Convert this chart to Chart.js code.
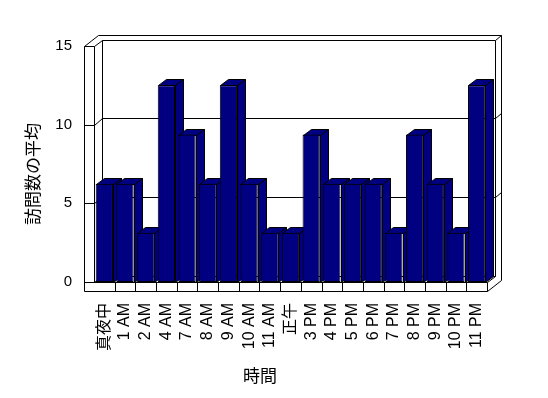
<!DOCTYPE html>
<html lang="ja">
<head>
<meta charset="UTF-8">
<title>時間別の訪問数の平均</title>
<script src="https://cdn.jsdelivr.net/npm/chart.js"></script>
<style>
  body { margin: 0; background: #fff; }
  .wrap { width: 548px; height: 398px; }
</style>
</head>
<body>
<div class="wrap"><canvas id="visitChart"></canvas></div>
<script>
// chart data
const hourLabels = ['真夜中', '1 AM', '2 AM', '4 AM', '7 AM', '8 AM', '9 AM', '10 AM', '11 AM', '正午',
                    '3 PM', '4 PM', '5 PM', '6 PM', '7 PM', '8 PM', '9 PM', '10 PM', '11 PM'];
const avgVisits = [6.25, 6.25, 3.125, 12.5, 9.375, 6.25, 12.5, 6.25, 3.125, 3.125,
                   9.375, 6.25, 6.25, 6.25, 3.125, 9.375, 6.25, 3.125, 12.5];
const yMin = 0;
const yMax = 15;
const yStep = 5;
const yAxisTitle = '訪問数の平均';
const xAxisTitle = '時間';

// look of the 3D box
const NAVY = '#000080';
const BAR_DEPTH = { x: 8, y: -6 };
const WALL_IN = { x: 8, y: -6.5 };    // inner face of back wall
const WALL_OUT = { x: 14, y: -11.5 }; // outer face of back wall
const WALL_W = 10;                     // left wall thickness
const FLOOR_H = 9;                     // floor slab thickness
const CJK = '"Noto Sans CJK JP", sans-serif';
const LATIN = '"Liberation Sans", "Noto Sans CJK JP", sans-serif';

const p = v => Math.round(v) + 0.5;

function path(ctx, pts, close) {
    ctx.beginPath();
    pts.forEach(([x, y], i) => i ? ctx.lineTo(p(x), p(y)) : ctx.moveTo(p(x), p(y)));
    if (close) ctx.closePath();
}

const frame3d = {
    id: 'frame3d',
    beforeDatasetsDraw(chart) {
        const { ctx, chartArea: a, scales } = chart;
        const xs = scales.x, ys = scales.y;
        const L0 = a.left - WALL_W, L1 = a.left, R = a.right;
        const T = a.top, B = a.bottom, F = a.bottom + FLOOR_H;
        const WI = WALL_IN, WO = WALL_OUT;

        ctx.save();
        ctx.lineWidth = 1;
        ctx.strokeStyle = '#000';
        ctx.fillStyle = '#fff';

        // outline of walls + floor
        path(ctx, [[L0, F], [L0, T], [L0 + WO.x, T + WO.y], [R + WO.x, T + WO.y], [R + WO.x, F + WO.y], [R, F]], true);
        ctx.fill();
        ctx.stroke();

        // back wall inner face
        path(ctx, [[L1 + WI.x, T + WI.y], [R + WI.x, T + WI.y], [R + WI.x, B + WI.y], [L1 + WI.x, B + WI.y]], true);
        ctx.stroke();
        path(ctx, [[R + WI.x, T + WI.y], [R + WO.x, T + WO.y]]);
        ctx.stroke();

        // left wall
        path(ctx, [[L0, T], [L1, T], [L1, B]]);
        ctx.stroke();
        path(ctx, [[L1, T], [L1 + WI.x, T + WI.y]]);
        ctx.stroke();
        path(ctx, [[L1, B], [L1 + WI.x, B + WI.y]]);
        ctx.stroke();

        // floor
        path(ctx, [[L0, B], [R, B], [R, F]]);
        ctx.stroke();
        path(ctx, [[R, B], [R + WI.x, B + WI.y]]);
        ctx.stroke();

        // gridlines wrap round the walls
        ys.ticks.forEach(t => {
            if (t.value <= yMin || t.value >= yMax) return;
            const yy = ys.getPixelForValue(t.value);
            path(ctx, [[L0, yy], [L1, yy], [L1 + WI.x, yy + WI.y], [R + WI.x, yy + WI.y], [R + WO.x, yy + WO.y]]);
            ctx.stroke();
        });

        // category dividers on the floor front
        for (let i = 1; i < hourLabels.length; i++) {
            const xx = (xs.getPixelForTick(i - 1) + xs.getPixelForTick(i)) / 2;
            path(ctx, [[xx, B], [xx, F]]);
            ctx.stroke();
        }

        // bar sides and tops, left to right
        ctx.fillStyle = NAVY;
        const D = BAR_DEPTH;
        chart.getDatasetMeta(0).data.forEach(bar => {
            const l = bar.x - bar.width / 2, r = bar.x + bar.width / 2;
            const top = bar.y, bot = bar.base;
            path(ctx, [[r, top], [r + D.x, top + D.y], [r + D.x, bot + D.y], [r, bot]], true);
            ctx.fill();
            ctx.stroke();
            path(ctx, [[l, top], [l + D.x, top + D.y], [r + D.x, top + D.y], [r, top]], true);
            ctx.fill();
            ctx.stroke();
        });
        ctx.restore();
    },
    afterDraw(chart) {
        const ctx = chart.ctx;
        ctx.save();
        ctx.fillStyle = '#000';
        ctx.font = '17px ' + CJK;
        ctx.textAlign = 'center';
        ctx.textBaseline = 'middle';
        ctx.translate(33, 174);
        ctx.rotate(-Math.PI / 2);
        ctx.fillText(yAxisTitle, 0, 0);
        ctx.restore();

        ctx.save();
        ctx.fillStyle = '#000';
        ctx.font = '17px ' + CJK;
        ctx.textAlign = 'center';
        ctx.textBaseline = 'middle';
        ctx.fillText(xAxisTitle, 260, 376);
        ctx.restore();
    }
};

const chart = new Chart(document.getElementById('visitChart'), {
    type: 'bar',
    data: {
        labels: hourLabels,
        datasets: [{
            data: avgVisits,
            backgroundColor: NAVY,
            borderColor: '#000',
            borderWidth: 1,
            borderSkipped: false,
            categoryPercentage: 1,
            barPercentage: 0.835
        }]
    },
    options: {
        responsive: true,
        maintainAspectRatio: false,
        animation: false,
        layout: { padding: { left: 0, right: 61, top: 46, bottom: 0 } },
        plugins: {
            legend: { display: false },
            tooltip: { enabled: false }
        },
        scales: {
            x: {
                grid: { display: false, drawTicks: false },
                border: { display: false },
                ticks: {
                    color: '#000',
                    font: { family: LATIN, size: 16 },
                    minRotation: 90,
                    maxRotation: 90,
                    padding: 21,
                    autoSkip: false
                },
                afterFit(scale) { scale.height = 116; }
            },
            y: {
                min: yMin,
                max: yMax,
                grid: { display: false, drawTicks: false },
                border: { display: false },
                ticks: {
                    stepSize: yStep,
                    color: '#000',
                    font: { family: LATIN, size: 15 },
                    padding: 22
                },
                afterFit(scale) { scale.width = 94; }
            }
        }
    },
    plugins: [frame3d]
});
</script>
</body>
</html>
